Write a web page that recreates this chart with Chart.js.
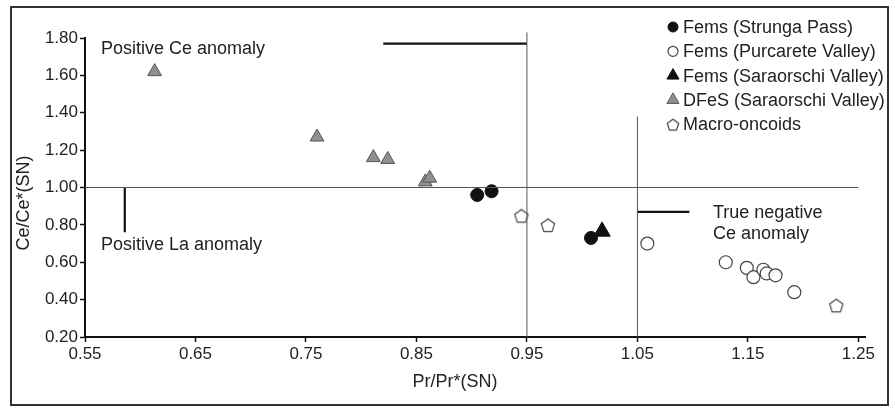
<!DOCTYPE html>
<html>
<head>
<meta charset="utf-8">
<script src="https://cdn.jsdelivr.net/npm/chart.js@4/dist/chart.umd.min.js"></script>
<style>
html,body{margin:0;padding:0;background:#fff;}
#wrap{width:895px;height:408px;position:relative;}
</style>
</head>
<body>
<div id="wrap"><canvas id="c" width="895" height="408"></canvas></div>
<script>
// ---- data ----
const strungaX = [0.905, 0.918, 1.008];
const strungaY = [0.96, 0.98, 0.73];
const purcareteX = [1.059, 1.130, 1.149, 1.155, 1.164, 1.167, 1.175, 1.192];
const purcareteY = [0.70, 0.60, 0.57, 0.52, 0.56, 0.54, 0.53, 0.44];
const saraorschiX = [1.018];
const saraorschiY = [0.765];
const dfesX = [0.613, 0.760, 0.811, 0.824, 0.858, 0.862];
const dfesY = [1.62, 1.27, 1.16, 1.15, 1.03, 1.05];
const macroX = [0.945, 0.969, 1.230];
const macroY = [0.85, 0.80, 0.37];

const seriesLabels = ["Fems (Strunga Pass)", "Fems (Purcarete Valley)", "Fems (Saraorschi Valley)", "DFeS (Saraorschi Valley)", "Macro-oncoids"];

const xTicks = [0.55, 0.65, 0.75, 0.85, 0.95, 1.05, 1.15, 1.25];
const yTicks = [0.20, 0.40, 0.60, 0.80, 1.00, 1.20, 1.40, 1.60, 1.80];
const xMin = 0.55, xMax = 1.256, yMin = 0.20, yMax = 1.80;

// reference / divider lines [x0,y0,x1,y1]
const lineH100 = [0.55, 1.00, 1.25, 1.00];
const lineV095 = [0.95, 0.20, 0.95, 1.83];
const lineV105 = [1.05, 0.20, 1.05, 1.38];
const markCe = [0.82, 1.77, 0.95, 1.77];
const markLa = [0.586, 1.00, 0.586, 0.76];
const markNeg = [1.05, 0.87, 1.097, 0.87];

const annoTexts = ["Positive Ce anomaly", "Positive La anomaly", "True negative", "Ce anomaly"];
const xTitle = "Pr/Pr*(SN)";
const yTitle = "Ce/Ce*(SN)";

// ---- helpers ----
const zip = (xs, ys) => xs.map((x, i) => ({x: x, y: ys[i]}));
const seg = a => [{x: a[0], y: a[1]}, {x: a[2], y: a[3]}];

function pentagon(r, stroke) {
  const s = Math.ceil(r * 2 + 4);
  const cv = document.createElement('canvas');
  cv.width = s; cv.height = s;
  const g = cv.getContext('2d');
  g.beginPath();
  for (let i = 0; i < 5; i++) {
    const a = -Math.PI / 2 + i * 2 * Math.PI / 5;
    const px = s / 2 + r * Math.cos(a), py = s / 2 + 1 + r * Math.sin(a);
    if (i === 0) g.moveTo(px, py); else g.lineTo(px, py);
  }
  g.closePath();
  g.fillStyle = '#fff';
  g.fill();
  g.strokeStyle = stroke;
  g.lineWidth = 1.2;
  g.stroke();
  return cv;
}
const pentBig = pentagon(7, '#444');
const pentSmall = pentagon(6, '#444');

function lineDs(data, width, color, clip) {
  return {type: 'line', data: seg(data), showLine: true, borderColor: color, borderWidth: width,
    pointRadius: 0, pointHoverRadius: 0, fill: false, tension: 0, clip: clip === undefined ? 0 : clip};
}

const datasets = [
  lineDs(lineH100, 1, '#555'),
  lineDs(lineV095, 1, '#555', false),
  lineDs(lineV105, 1, '#555'),
  lineDs(markCe, 2.2, '#111', false),
  lineDs(markLa, 2.2, '#111', false),
  lineDs(markNeg, 2.2, '#111', false),
  {label: seriesLabels[3], data: zip(dfesX, dfesY), pointStyle: 'triangle', pointRadius: 8,
   backgroundColor: '#909090', borderColor: '#555', borderWidth: 1, legendRadius: 7},
  {label: seriesLabels[0], data: zip(strungaX, strungaY), pointStyle: 'circle', pointRadius: 6.5,
   backgroundColor: '#111', borderColor: '#111', borderWidth: 1, legendRadius: 5},
  {label: seriesLabels[2], data: zip(saraorschiX, saraorschiY), pointStyle: 'triangle', pointRadius: 9.5,
   backgroundColor: '#111', borderColor: '#111', borderWidth: 1, legendRadius: 7},
  {label: seriesLabels[1], data: zip(purcareteX, purcareteY), pointStyle: 'circle', pointRadius: 6.5,
   backgroundColor: 'rgba(255,255,255,0.9)', borderColor: '#444', borderWidth: 1.2, legendRadius: 5},
  {label: seriesLabels[4], data: zip(macroX, macroY), pointStyle: pentBig, pointRadius: 7,
   backgroundColor: '#fff', borderColor: '#444', borderWidth: 1.2, legendStyle: pentSmall, legendRadius: 6}
];

const FONT = '"Liberation Sans", Arial, sans-serif';
const TXT = '#222';

const decor = {
  id: 'decor',
  afterDraw(chart) {
    const ctx = chart.ctx;
    ctx.save();
    // frame
    ctx.strokeStyle = '#333';
    ctx.lineWidth = 2;
    ctx.strokeRect(11, 7, 877, 398);
    ctx.fillStyle = TXT;
    ctx.font = '18px ' + FONT;
    ctx.textBaseline = 'middle';
    ctx.textAlign = 'left';
    // annotations
    ctx.fillText(annoTexts[0], 101, 49);
    ctx.fillText(annoTexts[1], 101, 245);
    ctx.fillText(annoTexts[2], 713, 213);
    ctx.fillText(annoTexts[3], 713, 234);
    // axis titles
    ctx.textAlign = 'center';
    ctx.fillText(xTitle, 455, 382);
    ctx.save();
    ctx.translate(24, 203);
    ctx.rotate(-Math.PI / 2);
    ctx.fillText(yTitle, 0, 0);
    ctx.restore();
    // legend
    ctx.textAlign = 'left';
    seriesLabels.forEach((lab, i) => {
      const ds = chart.data.datasets.find(d => d.label === lab);
      const y = 27 + i * 24.3;
      ctx.fillStyle = ds.backgroundColor;
      ctx.strokeStyle = ds.borderColor;
      ctx.lineWidth = ds.borderWidth;
      Chart.helpers.drawPoint(ctx, {pointStyle: ds.legendStyle || ds.pointStyle, radius: ds.legendRadius, borderWidth: ds.borderWidth, rotation: 0}, 673, y);
      ctx.fillStyle = TXT;
      ctx.fillText(lab, 683, y + 1);
    });
    ctx.restore();
  }
};

new Chart(document.getElementById('c'), {
  type: 'scatter',
  data: {datasets: datasets},
  plugins: [decor],
  options: {
    responsive: false,
    animation: false,
    events: [],
    layout: {padding: {left: 0, top: 38, right: 30, bottom: 0}},
    plugins: {legend: {display: false}, tooltip: {enabled: false}},
    scales: {
      x: {
        type: 'linear', min: xMin, max: xMax,
        afterBuildTicks: s => { s.ticks = xTicks.map(v => ({value: v})); },
        afterFit: s => { s.height = 71; },
        ticks: {color: TXT, font: {family: FONT, size: 17}, padding: 2, maxRotation: 0,
                callback: v => Number(v).toFixed(2)},
        grid: {drawOnChartArea: false, drawTicks: true, tickLength: 5, color: '#111', tickWidth: 1.5},
        border: {display: true, color: '#111', width: 2}
      },
      y: {
        type: 'linear', min: yMin, max: yMax,
        afterBuildTicks: s => { s.ticks = yTicks.map(v => ({value: v})); },
        afterFit: s => { s.width = 85; },
        ticks: {color: TXT, font: {family: FONT, size: 17}, padding: 2,
                callback: v => Number(v).toFixed(2)},
        grid: {drawOnChartArea: false, drawTicks: true, tickLength: 5, color: '#111', tickWidth: 1.5},
        border: {display: true, color: '#111', width: 2}
      }
    }
  }
});
</script>
</body>
</html>
